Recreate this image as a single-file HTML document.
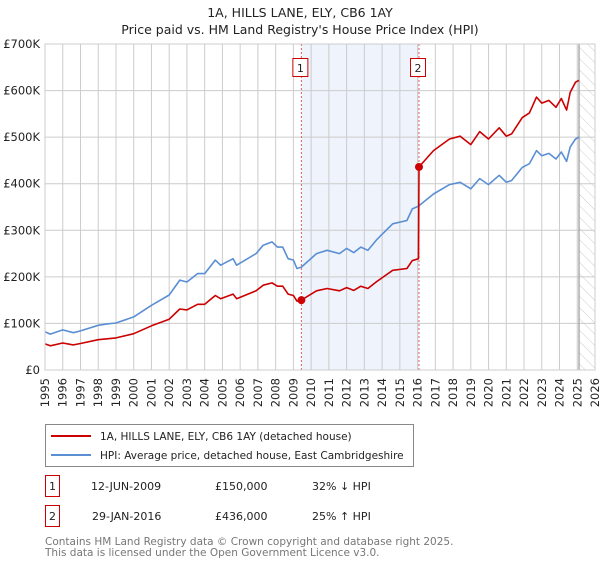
<!DOCTYPE html>
<html><head><meta charset="utf-8">
<style>
body{margin:0;background:#fff;font-family:"Liberation Sans","DejaVu Sans",sans-serif;}
svg text{font-family:"DejaVu Sans","Liberation Sans",sans-serif;}
</style></head>
<body>
<svg id="chart" width="600" height="560" xmlns="http://www.w3.org/2000/svg">
<defs>
<pattern id="hatch" patternUnits="userSpaceOnUse" width="8" height="8" patternTransform="rotate(-45)">
<line x1="0" y1="0" x2="0" y2="8" stroke="#ccc" stroke-width="1"/>
</pattern>
</defs>
<text x="300" y="17" text-anchor="middle" font-size="12.5" fill="#222">1A, HILLS LANE, ELY, CB6 1AY</text>
<text x="300" y="34" text-anchor="middle" font-size="12.5" fill="#222">Price paid vs. HM Land Registry's House Price Index (HPI)</text>
<g id="plot"></g>
<g>
<rect x="45.5" y="424.5" width="368" height="42" fill="#fff" stroke="#888"/>
<line x1="51" y1="436" x2="91" y2="436" stroke="#cc0000" stroke-width="2"/>
<text x="100" y="440" font-size="10.5" fill="#222">1A, HILLS LANE, ELY, CB6 1AY (detached house)</text>
<line x1="51" y1="455" x2="91" y2="455" stroke="#5b8fd4" stroke-width="2"/>
<text x="100" y="459" font-size="10.5" fill="#222">HPI: Average price, detached house, East Cambridgeshire</text>
</g>
<g font-size="11" fill="#222">
<rect x="45.5" y="475.5" width="14" height="21" fill="#fff" stroke="#cc0000"/>
<text x="52.5" y="490" text-anchor="middle">1</text>
<text x="91" y="490">12-JUN-2009</text>
<text x="215" y="490">£150,000</text>
<text x="312" y="490">32% ↓ HPI</text>
<rect x="45.5" y="505.5" width="14" height="21" fill="#fff" stroke="#cc0000"/>
<text x="52.5" y="520" text-anchor="middle">2</text>
<text x="92" y="520">29-JAN-2016</text>
<text x="215" y="520">£436,000</text>
<text x="312" y="520">25% ↑ HPI</text>
</g>
<text x="45" y="545" font-size="10.5" fill="#777">Contains HM Land Registry data © Crown copyright and database right 2025.</text>
<text x="45" y="556" font-size="10.5" fill="#777">This data is licensed under the Open Government Licence v3.0.</text>
</svg>
<script>
const hpiYears=[1995.0,1995.3,1996,1996.6,1997,1998,1998.5,1999,2000,2001,2002,2002.6,2003,2003.6,2004,2004.6,2004.9,2005.6,2005.8,2006.9,2007.3,2007.8,2008.1,2008.4,2008.7,2009,2009.2,2009.45,2010.3,2010.9,2011.6,2012,2012.4,2012.8,2013.2,2013.7,2014.6,2015.4,2015.7,2016.05,2016.9,2017.8,2018.4,2019,2019.5,2020,2020.6,2021,2021.3,2021.9,2022.3,2022.7,2023,2023.4,2023.8,2024.1,2024.4,2024.6,2024.9,2025.1];
const hpiValues=[82,77,86,80,84,96,99,101,114,139,161,193,189,207,207,236,225,239,225,250,268,275,264,264,239,236,218,221,250,257,250,261,252,264,257,280,314,321,346,352,378,398,403,389,411,398,418,403,407,435,443,471,460,465,453,468,448,479,496,500];
const priceYears=[1995.0,1995.3,1996,1996.6,1997,1998,1998.5,1999,2000,2001,2002,2002.6,2003,2003.6,2004,2004.6,2004.9,2005.6,2005.8,2006.9,2007.3,2007.8,2008.1,2008.4,2008.7,2009,2009.2,2009.45,2010.3,2010.9,2011.6,2012,2012.4,2012.8,2013.2,2013.7,2014.6,2015.4,2015.7,2016.05,2016.08,2016.9,2017.8,2018.4,2019,2019.5,2020,2020.6,2021,2021.3,2021.9,2022.3,2022.7,2023,2023.4,2023.8,2024.1,2024.4,2024.6,2024.9,2025.1];
const priceValues=[56,52,58,54,57,65,67,69,78,95,109,131,129,141,141,160,153,163,153,170,182,187,180,180,163,160,148,150,170,175,170,177,171,180,175,190,214,218,235,239,436,471,496,502,484,512,496,520,502,507,542,552,586,573,579,564,583,558,596,618,622];
const saleYears=[2009.45,2016.08];
const saleValues=[150,436];
const saleLabels=["1","2"];
const yTicks=[0,100,200,300,400,500,600,700];
const yTickLabels=["£0","£100K","£200K","£300K","£400K","£500K","£600K","£700K"];
const xTicks=[1995,1996,1997,1998,1999,2000,2001,2002,2003,2004,2005,2006,2007,2008,2009,2010,2011,2012,2013,2014,2015,2016,2017,2018,2019,2020,2021,2022,2023,2024,2025,2026];

const X0=45,X1=595,Y0=370,Y1=44;
const xS=v=>X0+(v-1995)/(2026-1995)*(X1-X0);
const yS=v=>Y0-v/700*(Y0-Y1);
const NS="http://www.w3.org/2000/svg";
const plot=document.getElementById('plot');
function mk(tag,attrs,parent){const e=document.createElementNS(NS,tag);for(const k in attrs)e.setAttribute(k,attrs[k]);(parent||plot).appendChild(e);return e;}

let r=mk('rect',{x:xS(saleYears[0]),y:Y1,width:xS(saleYears[1])-xS(saleYears[0]),height:Y0-Y1,fill:'#eef3fc'});


const dataEnd=2025.1;
let h=mk('rect',{x:xS(dataEnd),y:Y1,width:X1-xS(dataEnd),height:Y0-Y1,fill:'url(#hatch)'});


xTicks.forEach(t=>{const l=mk('line',{x1:xS(t),x2:xS(t),y1:Y1,y2:Y0,stroke:'#cccccc','stroke-width':1});


const tx=mk('text',{x:0,y:0,transform:`translate(${xS(t)+4},${Y0+8}) rotate(-90)`,'text-anchor':'end','font-size':11.5,fill:'#222'});
tx.textContent=t;


});
yTicks.forEach((t,i)=>{const l=mk('line',{x1:X0,x2:X1,y1:yS(t),y2:yS(t),stroke:'#cccccc','stroke-width':1});


const tx=mk('text',{x:X0-5,y:yS(t)+4,'text-anchor':'end','font-size':11.5,fill:'#222'});
tx.textContent=yTickLabels[i];


});
let ed=mk('line',{x1:xS(dataEnd),x2:xS(dataEnd),y1:Y1,y2:Y0,stroke:'#999','stroke-width':1.2});


saleYears.forEach((s,i)=>{const l=mk('line',{x1:xS(s),x2:xS(s),y1:Y1,y2:Y0,stroke:'#e06060','stroke-width':1,'stroke-dasharray':'2,2'});


});
function path(xs,ys,color,name){const d=xs.map((x,i)=>(i?'L':'M')+xS(x).toFixed(1)+','+yS(ys[i]).toFixed(1)).join('');
const p=mk('path',{d:d,fill:'none',stroke:color,'stroke-width':1.6,'stroke-linejoin':'round'});

}
path(hpiYears,hpiValues,'#5b8fd4','hpi-line');
path(priceYears,priceValues,'#cc0000','price-paid-line');
saleYears.forEach((s,i)=>{
const c=mk('circle',{cx:xS(s),cy:yS(saleValues[i]),r:4,fill:'#cc0000'});


const b=mk('rect',{x:xS(s)-8.5,y:58.5,width:15,height:18,fill:'#fff',stroke:'#cc0000'});


const t=mk('text',{x:xS(s)-1,y:72,'text-anchor':'middle','font-size':11,fill:'#222'});
t.textContent=saleLabels[i];


});
mk('rect',{x:X0,y:Y1,width:X1-X0,height:Y0-Y1,fill:'none',stroke:'#ccc'});
</script>
</body></html>
